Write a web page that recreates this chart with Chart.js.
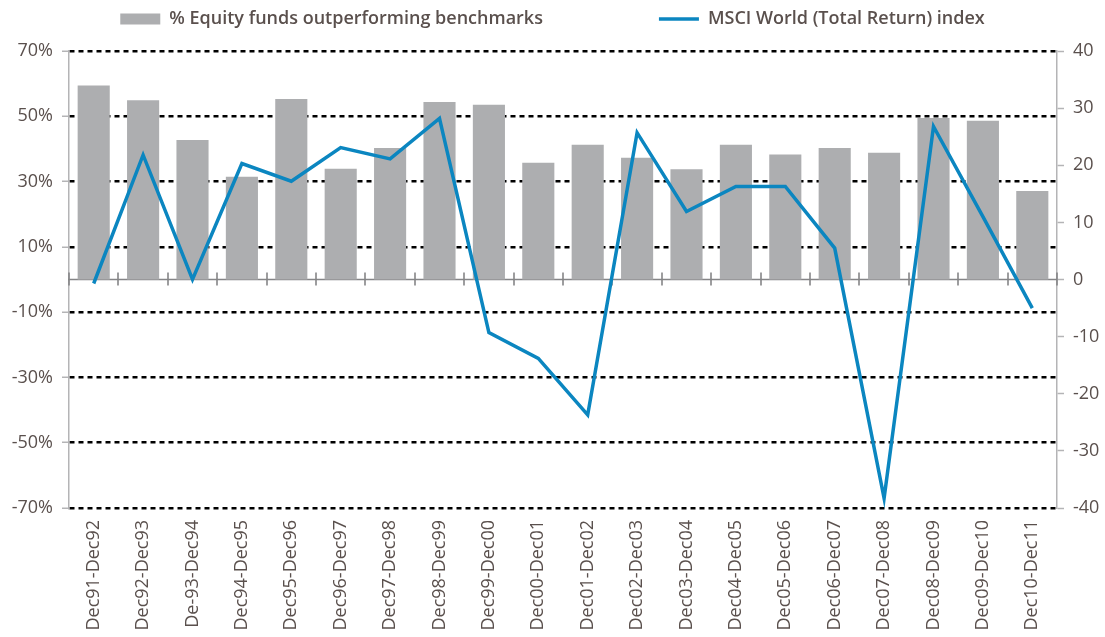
<!DOCTYPE html>
<html>
<head>
<meta charset="utf-8">
<script src="https://cdn.jsdelivr.net/npm/chart.js@4/dist/chart.umd.min.js"></script>
<style>
  html, body { margin: 0; padding: 0; background: #fff; }
  #wrap { width: 1105px; height: 637px; }
</style>
</head>
<body>
<div id="wrap"><canvas id="chart"></canvas></div>
<script>
const categories = ['Dec91-Dec92', 'Dec92-Dec93', 'De-93-Dec94', 'Dec94-Dec95', 'Dec95-Dec96',
  'Dec96-Dec97', 'Dec97-Dec98', 'Dec98-Dec99', 'Dec99-Dec00', 'Dec00-Dec01', 'Dec01-Dec02',
  'Dec02-Dec03', 'Dec03-Dec04', 'Dec04-Dec05', 'Dec05-Dec06', 'Dec06-Dec07', 'Dec07-Dec08',
  'Dec08-Dec09', 'Dec09-Dec10', 'Dec10-Dec11'];

// % of equity funds beating their benchmark (left axis)
const fundsOutperforming = [59.4, 54.9, 42.7, 31.5, 55.3, 33.9, 40.3, 54.4, 53.5, 35.8,
  41.3, 37.3, 33.8, 41.3, 38.3, 40.3, 38.8, 49.5, 48.6, 27.1];

// MSCI World total return, % (right axis)
const msciReturn = [-0.7, 21.8, 0, 20.3, 17.2, 23.1, 21.1, 28.2, -9.3, -13.8,
  -23.7, 25.7, 11.9, 16.3, 16.3, 5.5, -38.3, 26.8, 11.0, -5.0];

const leftTicks = [-70, -50, -30, -10, 10, 30, 50, 70];
const rightTicks = [-40, -30, -20, -10, 0, 10, 20, 30, 40];

const textColor = '#5a504d';
const axisGray = '#b4b4b6';
const barGray = '#adaeb0';
const lineBlue = '#0b86c0';
const fontFamily = '"Open Sans", sans-serif';

const legendGap = 116;

// solid zero line with small crossing ticks between categories
const zeroLine = {
  id: 'zeroLine',
  beforeDatasetsDraw(chart) {
    const { ctx, chartArea, scales } = chart;
    const y = scales.y.getPixelForValue(0);
    ctx.save();
    ctx.strokeStyle = '#858587';
    ctx.lineWidth = 1.6;
    ctx.beginPath();
    ctx.moveTo(chartArea.left - 1, y);
    ctx.lineTo(chartArea.right, y);
    for (let i = 0; i <= categories.length; i++) {
      const x = Math.round(scales.x.getPixelForValue(i - 0.5));
      ctx.moveTo(x, y - 7);
      ctx.lineTo(x, y + 6);
    }
    ctx.stroke();
    ctx.restore();
  }
};

// wide gap between the two legend items, but a short legend box
const legendSpacing = {
  id: 'legendSpacing',
  beforeInit(chart) {
    const legend = chart.legend;
    const fit = legend.fit;
    legend.fit = function () {
      fit.call(this);
      this.height = 51;
    };
    const draw = legend._draw;
    legend._draw = function () {
      const top = this.top;
      this.top = top - legendGap + 10;
      draw.call(this);
      this.top = top;
    };
  }
};

new Chart(document.getElementById('chart'), {
  data: {
    labels: categories,
    datasets: [
      {
        type: 'line',
        label: 'MSCI World (Total Return) index',
        data: msciReturn,
        yAxisID: 'y2',
        borderColor: lineBlue,
        backgroundColor: lineBlue,
        borderWidth: 3.5,
        borderJoinStyle: 'miter',
        pointRadius: 0,
        tension: 0,
        order: 0
      },
      {
        type: 'bar',
        label: '% Equity funds outperforming benchmarks',
        data: fundsOutperforming,
        yAxisID: 'y',
        backgroundColor: barGray,
        borderWidth: 0,
        barPercentage: 0.65,
        categoryPercentage: 1,
        order: 1
      }
    ]
  },
  options: {
    responsive: true,
    maintainAspectRatio: false,
    animation: false,
    layout: { padding: 0 },
    plugins: {
      tooltip: { enabled: false },
      legend: {
        position: 'top',
        labels: {
          color: textColor,
          font: { family: fontFamily, size: 18, weight: '600' },
          usePointStyle: true,
          pointStyleWidth: 40,
          boxHeight: 11,
          padding: legendGap,
          generateLabels(chart) {
            const ds = chart.data.datasets;
            return [
              { text: ds[1].label, fillStyle: barGray, strokeStyle: barGray, lineWidth: 0,
                pointStyle: 'rect', datasetIndex: 1, fontColor: textColor },
              { text: ds[0].label, fillStyle: lineBlue, strokeStyle: lineBlue, lineWidth: 3.5,
                pointStyle: 'line', datasetIndex: 0, fontColor: textColor }
            ];
          }
        }
      }
    },
    scales: {
      x: {
        position: 'bottom',
        offset: true,
        grid: { display: false },
        border: { display: false },
        ticks: {
          color: textColor,
          font: { family: fontFamily, size: 18 },
          maxRotation: 90,
          minRotation: 90,
          autoSkip: false,
          padding: 4
        },
        afterFit(scale) { scale.height = 129; }
      },
      y: {
        position: 'left',
        min: -70,
        max: 70,
        afterBuildTicks(scale) { scale.ticks = leftTicks.map(v => ({ value: v })); },
        grid: {
          color: '#000',
          lineWidth: 2.5,
          tickColor: axisGray,
          tickLength: 7,
          tickWidth: 1.5,
          tickBorderDash: [],
          drawTicks: true
        },
        border: { display: true, color: axisGray, width: 1.5, dash: [5, 4] },
        ticks: {
          color: textColor,
          font: { family: fontFamily, size: 18, weight: '500' },
          padding: 9,
          callback: v => v + '%'
        },
        afterFit(scale) { scale.width = 69; }
      },
      y2: {
        position: 'right',
        min: -40,
        max: 40,
        afterBuildTicks(scale) { scale.ticks = rightTicks.map(v => ({ value: v })); },
        grid: {
          drawOnChartArea: false,
          tickColor: axisGray,
          tickLength: 7,
          tickWidth: 1.5,
          tickBorderDash: []
        },
        border: { display: true, color: axisGray, width: 1.5 },
        ticks: {
          color: textColor,
          font: { family: fontFamily, size: 18, weight: '500' },
          padding: 9
        },
        afterFit(scale) { scale.width = 48; }
      }
    }
  },
  plugins: [zeroLine, legendSpacing]
});
</script>
</body>
</html>
